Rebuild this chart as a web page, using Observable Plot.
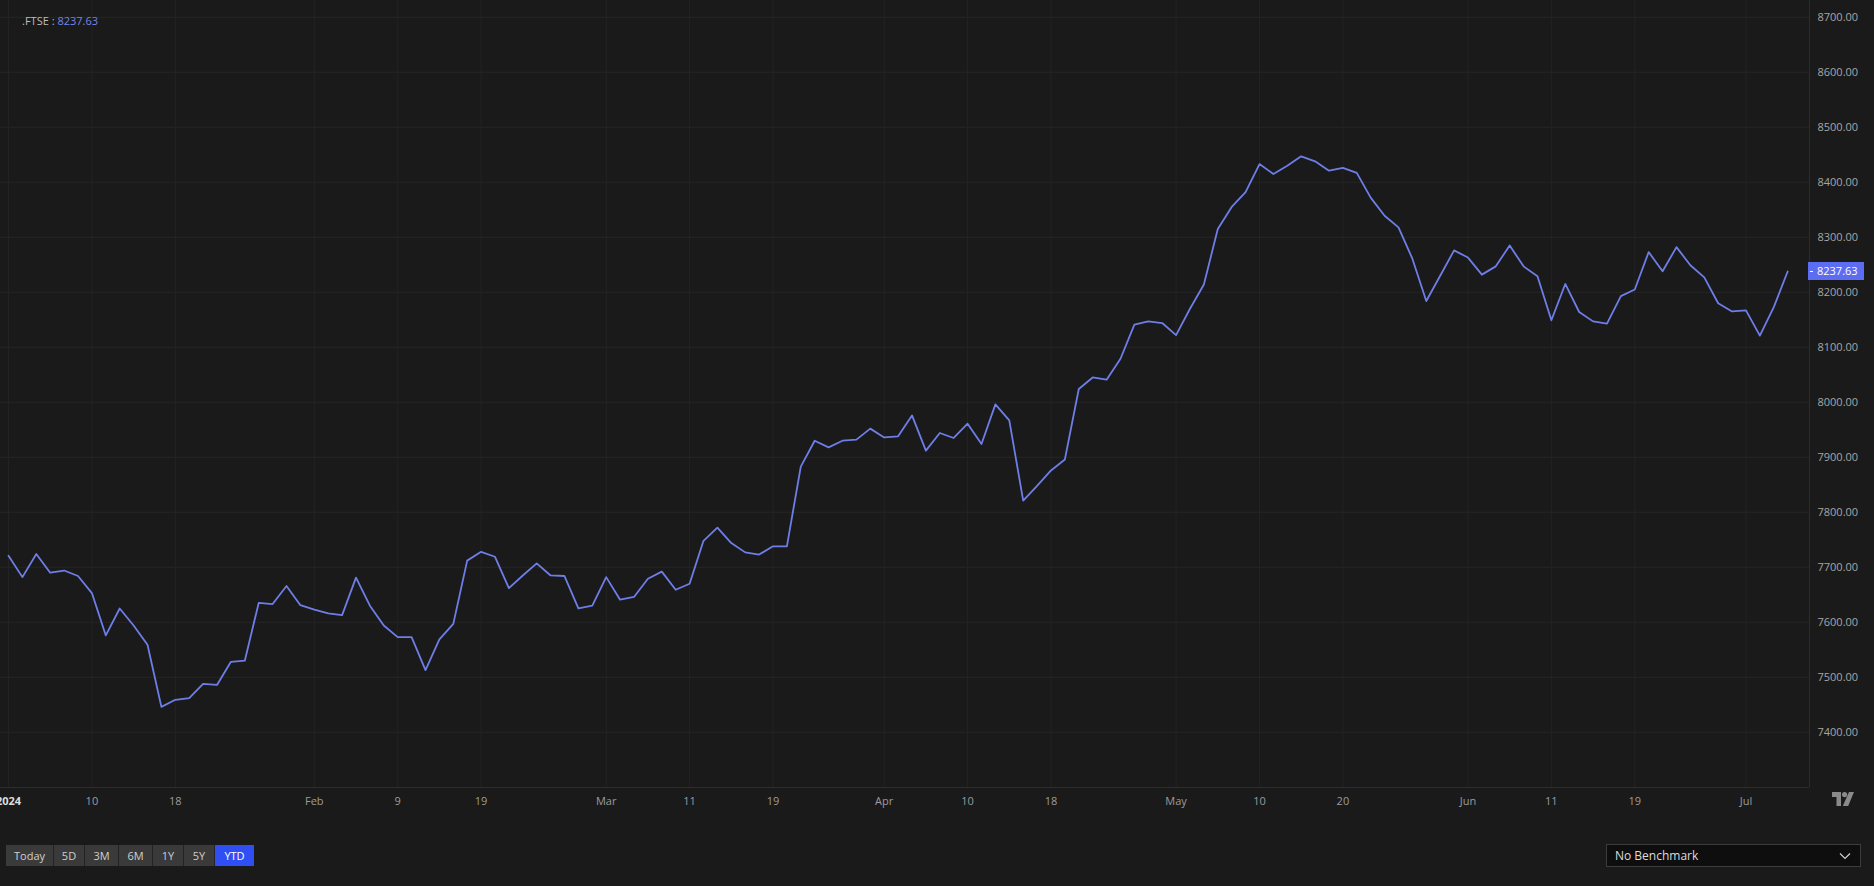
<!DOCTYPE html>
<html>
<head>
<meta charset="utf-8">
<script src="https://cdn.jsdelivr.net/npm/d3@7"></script>
<script src="https://cdn.jsdelivr.net/npm/@observablehq/plot@0.6"></script>
<style>
  html, body { margin: 0; padding: 0; background: #1a1a1a; width: 1874px; height: 886px; overflow: hidden; }
  body { position: relative; font-family: "Open Sans", "Noto Sans", sans-serif; }
  #chart { position: absolute; left: 0; top: 0; }
  .symbol { position: absolute; left: 22px; top: 13px; font-size: 11px; color: #bdbdbd; }
  .symbol span { color: #7484ea; }
  .lastbox { position: absolute; left: 1808px; width: 56px; height: 18px; background: #5d6df1; color: #fff; font-size: 11px; line-height: 18px; box-sizing: border-box; padding-left: 9px; }
  .lastbox i { position: absolute; left: 2px; top: 8.5px; width: 3px; height: 1px; background: #fff; }
  .ranges { position: absolute; left: 6px; top: 845px; height: 21px; display: flex; }
  .ranges div { height: 21px; line-height: 21px; background: #3a3a3a; color: #cfcfcf; font-size: 11px; text-align: center; border-right: 1px solid #232323; box-sizing: border-box; }
  .ranges div.on { background: #2f4ff5; color: #fff; border-right: none; }
  .bench { position: absolute; left: 1606px; top: 844px; width: 255px; height: 23px; background: #0e0e0e; border: 1px solid #3c3c3c; box-sizing: border-box; color: #dcdcdc; font-size: 12px; line-height: 21px; padding-left: 8px; }
  .bench svg { position: absolute; right: 9px; top: 7px; }
  .logo { position: absolute; left: 1832px; top: 789px; }
</style>
</head>
<body>
<div id="chart"></div>
<script>
// FTSE 100 daily closes, 2024 YTD (trading days, index based)
const values = [
  7721,7682,7724,7690,7694,7684,7653,7576,7625,7594,
  7559,7446,7459,7462,7488,7486,7528,7530,7635,7633,
  7666,7631,7623,7616,7613,7681,7630,7594,7573,7573,
  7513,7569,7597,
  7712,7728,7719,7662,7685,7707,7685,7684,7625,7630,
  7682,7641,7646,7679,7692,7659,7670,7748,7772,7744,
  7727,7723,7738,7738,7883,7930,7918,7930,7932,7952,
  7936,7938,
  7976,7912,7944,7935,7961,7924,7996,7967,7821,7848,
  7876,7896,8024,8045,8041,8079,8141,8147,8144,8122,
  8170,8214,8315,8355,8382,8433,8415,8430,8447,8438,
  8421,
  8426,8417,8372,8339,8318,8261,8184,8230,8276,8263,
  8232,8247,8285,8247,8229,8149,8215,8164,8147,8143,
  8193,8205,8273,8238,8282,8249,8227,8180,8165,8167,
  8121,8173,8237.63
];
const symbol = ".FTSE";
const lastValue = 8237.63;

// x-axis ticks: trading-day index and label
const xTickIndex  = [0, 6, 12, 22, 28, 34, 43, 49, 55, 63, 69, 75, 84, 90, 96, 105, 111, 117, 125];
const xTickLabels = ["2024","10","18","Feb","9","19","Mar","11","19","Apr","10","18","May","10","20","Jun","11","19","Jul"];
const yTicks = [7400,7500,7600,7700,7800,7900,8000,8100,8200,8300,8400,8500,8600,8700];
const ranges = ["Today","5D","3M","6M","1Y","5Y","YTD"];
const rangeWidths = [48,31,34,34,31,31,39];

const data = values.map((v, i) => ({i, v}));
const labelOf = new Map(xTickIndex.map((d, k) => [d, xTickLabels[k]]));

const chart = Plot.plot({
  width: 1874,
  height: 826,
  marginLeft: 0,
  marginRight: 65,
  marginTop: 0,
  marginBottom: 39,
  style: {background: "transparent", color: "#9c9c9c", fontFamily: "'Open Sans', 'Noto Sans', sans-serif", fontSize: "11px", overflow: "hidden"},
  x: {domain: [-0.576, 129.57], axis: null, label: null},
  y: {domain: [7299.5, 8730.4], axis: null, label: null},
  marks: [
    Plot.gridY(yTicks, {stroke: "#262626", strokeOpacity: 1}),
    Plot.gridX(xTickIndex, {stroke: "#232323", strokeOpacity: 1}),
    Plot.ruleX([129.57], {stroke: "#2c2c2c"}),
    Plot.ruleY([7299.5], {stroke: "#2c2c2c"}),
    Plot.axisY(yTicks, {anchor: "right", label: null, tickSize: 0, tickPadding: 8, textAnchor: "start", tickFormat: d3.format(".2f"), fill: "#a6a6a6"}),
    Plot.axisX(xTickIndex.slice(1), {anchor: "bottom", label: null, tickSize: 0, tickPadding: 10, tickFormat: d => labelOf.get(d), fill: "#9c9c9c"}),
    Plot.axisX(xTickIndex.slice(0, 1), {anchor: "bottom", label: null, tickSize: 0, tickPadding: 10, tickFormat: d => labelOf.get(d), fill: "#dedede", fontWeight: "bold"}),
    Plot.lineY(data, {x: "i", y: "v", stroke: "#6e7ee8", strokeWidth: 1.8})
  ]
});
document.getElementById("chart").appendChild(chart);

// symbol label
const sym = document.createElement("div");
sym.className = "symbol";
sym.innerHTML = `${symbol} : <span>${lastValue.toFixed(2)}</span>`;
document.body.appendChild(sym);

// last value box on the price axis, placed by the y scale
const yPos = chart.scale("y").apply(lastValue);
const box = document.createElement("div");
box.className = "lastbox";
box.style.top = (yPos - 9) + "px";
box.innerHTML = `<i></i>${lastValue.toFixed(2)}`;
document.body.appendChild(box);

// range buttons
const rb = document.createElement("div");
rb.className = "ranges";
ranges.forEach((r, k) => {
  const b = document.createElement("div");
  b.textContent = r;
  b.style.width = rangeWidths[k] + "px";
  if (r === "YTD") b.className = "on";
  rb.appendChild(b);
});
document.body.appendChild(rb);

// benchmark dropdown
const bench = document.createElement("div");
bench.className = "bench";
bench.innerHTML = `No Benchmark<svg width="12" height="8" viewBox="0 0 12 8"><path d="M1 1.5 L6 6.5 L11 1.5" fill="none" stroke="#cfcfcf" stroke-width="1.2"/></svg>`;
document.body.appendChild(bench);

// logo
const logo = document.createElement("div");
logo.className = "logo";
logo.innerHTML = `<svg width="22" height="14" viewBox="0 0 22 14"><path d="M0 0 H9 V14 H4.5 V5 H0 Z" fill="#8a8a8a"/><circle cx="12.6" cy="2.6" r="2.6" fill="#8a8a8a"/><path d="M17 0 H22 L16.2 14 H10.8 Z" fill="#8a8a8a"/></svg>`;
document.body.appendChild(logo);
</script>
</body>
</html>
